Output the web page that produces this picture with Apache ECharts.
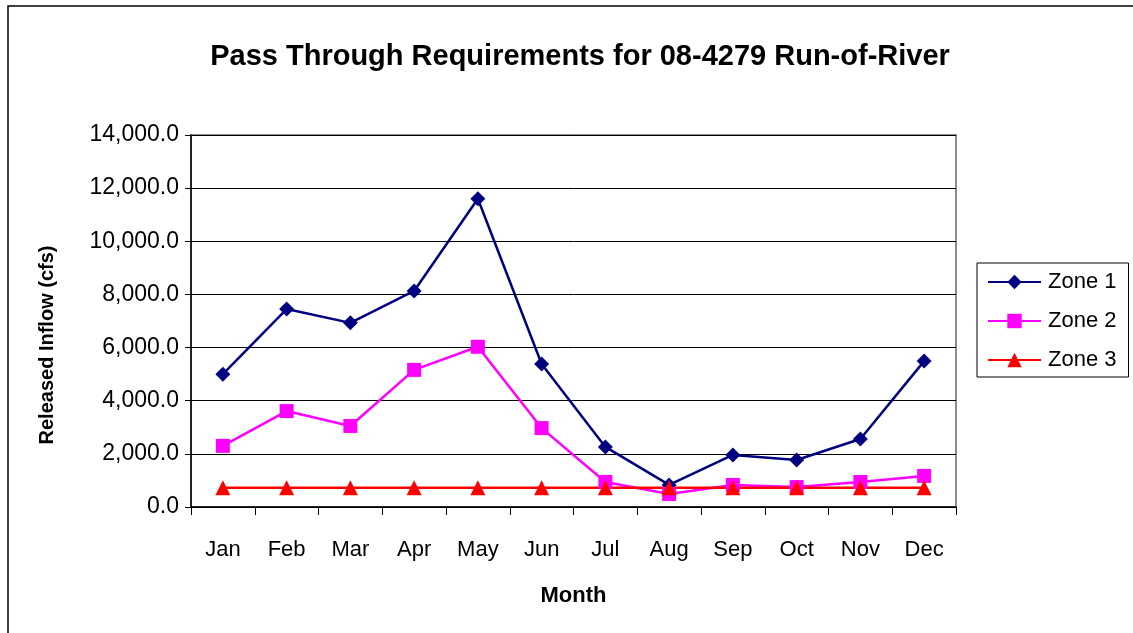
<!DOCTYPE html>
<html><head><meta charset="utf-8">
<script src="https://cdn.jsdelivr.net/npm/echarts@6/dist/echarts.min.js"></script>
<style>html,body{margin:0;padding:0;background:#fff}#c{width:1133px;height:633px}</style>
</head><body><div id="c"></div>
<script>
const months = ['Jan','Feb','Mar','Apr','May','Jun','Jul','Aug','Sep','Oct','Nov','Dec'];
const zone1 = [5000, 7450, 6930, 8130, 11600, 5380, 2260, 830, 1960, 1770, 2560, 5490];
const zone2 = [2300, 3610, 3050, 5160, 6030, 2970, 940, 490, 830, 750, 940, 1170];
const zone3 = [720, 720, 720, 720, 720, 720, 720, 720, 720, 720, 720, 720];
const F = 'Liberation Sans, Arial, sans-serif';
const chart = echarts.init(document.getElementById('c'));
chart.setOption({
  animation: false,
  backgroundColor: '#fff',
  title: { text: 'Pass Through Requirements for 08-4279 Run-of-River', left: 575, textAlign: 'center', top: 37,
    textStyle: { fontFamily: F, fontSize: 29, fontWeight: 'bold', color: '#000' } },
  graphic: [
    { type: 'rect', shape: { x: 8, y: 6, width: 1140, height: 640 }, style: { fill: 'none', stroke: '#000', lineWidth: 1.5 }, silent: true },
    { type: 'text', x: 47, y: 345, rotation: Math.PI / 2,
      style: { text: 'Released Inflow (cfs)', font: 'bold 20px Liberation Sans, Arial, sans-serif', fill: '#000', align: 'center', verticalAlign: 'middle' } }
  ],
  legend: {
    left: 977, top: 263, orient: 'vertical', itemGap: 17, itemWidth: 53, itemHeight: 18,
    borderColor: '#000', borderWidth: 1, padding: [8, 12, 6, 10],
    textStyle: { fontFamily: F, fontSize: 22, color: '#000', padding: [0, 0, 0, 2] },
    data: ['Zone 1', 'Zone 2', 'Zone 3']
  },
  grid: { left: 191, top: 135, right: 177, bottom: 126, show: true, borderColor: '#8c8c8c', borderWidth: 2 },
  xAxis: {
    type: 'category', data: months, boundaryGap: true,
    name: 'Month', nameLocation: 'middle', nameGap: 78,
    nameTextStyle: { fontFamily: F, fontSize: 22, fontWeight: 'bold', color: '#000' },
    axisLine: { lineStyle: { color: '#000', width: 1.5 } },
    axisTick: { show: true, length: 8, inside: false, lineStyle: { color: '#000' } },
    axisLabel: { fontFamily: F, fontSize: 22, color: '#000', margin: 32 }
  },
  yAxis: {
    type: 'value', min: 0, max: 14000, interval: 2000,
    axisLine: { show: true, lineStyle: { color: '#000', width: 1.5 } },
    axisTick: { show: true, length: 6, lineStyle: { color: '#000' } },
    axisLabel: { fontFamily: F, fontSize: 23, color: '#000', margin: 12,
      formatter: v => v.toLocaleString('en-US', { minimumFractionDigits: 1, maximumFractionDigits: 1 }) },
    splitLine: { show: true, lineStyle: { color: '#000', width: 1 } }
  },
  series: [
    { name: 'Zone 1', type: 'line', data: zone1, symbol: 'diamond', symbolSize: 15,
      itemStyle: { color: '#000080' }, lineStyle: { color: '#000080', width: 2.5 } },
    { name: 'Zone 2', type: 'line', data: zone2, symbol: 'rect', symbolSize: 14,
      itemStyle: { color: '#ff00ff' }, lineStyle: { color: '#ff00ff', width: 2.5 } },
    { name: 'Zone 3', type: 'line', data: zone3, symbol: 'triangle', symbolSize: 15,
      itemStyle: { color: '#ff0000' }, lineStyle: { color: '#ff0000', width: 2.5 } }
  ]
});
</script></body></html>
